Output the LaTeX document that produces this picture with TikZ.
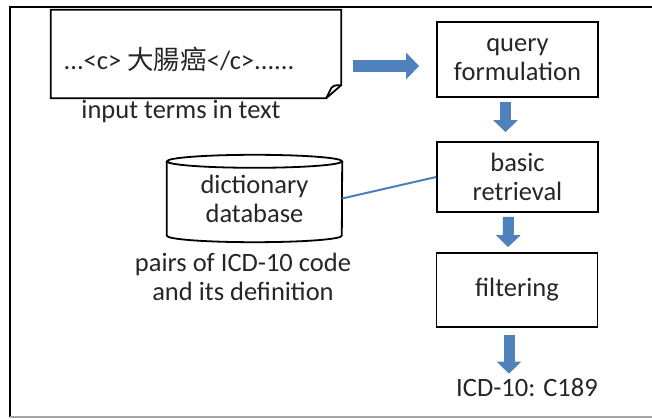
\documentclass[tikz,border=0pt]{standalone}
\usepackage{fontspec}
\setmainfont{Carlito}
\newfontfamily\cjk{Noto Sans CJK TC}
\usetikzlibrary{arrows.meta,positioning}

\definecolor{arrowblue}{RGB}{79,129,189}
\definecolor{linkblue}{RGB}{74,126,187}
\definecolor{textgray}{RGB}{38,38,38}

\begin{document}
\begin{tikzpicture}
[x=1pt,y=-1pt,
every node/.style={font=\fontsize{26.5}{29}\selectfont,text=textgray,align=center},
stepbox/.style={rectangle,draw=black,line width=1.8pt,minimum width=161pt,inner sep=0pt},
caption/.style={inner sep=0pt},
fatarrow/.style={draw=arrowblue,line width=12pt,-{Triangle[length=13pt,width=26pt]}},
downarrow/.style={draw=arrowblue,line width=11pt,-{Triangle[length=12pt,width=24pt]}}]
\useasboundingbox (0,0) rectangle (652,419);
% frame
\draw[line width=1.6pt] (10,417) -- (10,7) -- (660,7);
\draw[line width=1.6pt,gray!70] (10,417) -- (660,417);
% input text
\node (doc) at (196,54) [minimum width=290pt,minimum height=88pt,inner sep=0pt] {};
\node (doctext) at (179,59) [caption] {...<c> {\cjk 大腸癌}</c>......};
\draw[line width=1.8pt] (doc.north west) -- (doc.north east) -- ([yshift=13pt]doc.south east)
  -- ([xshift=-15pt]doc.south east) -- (doc.south west) -- cycle;
\draw[line width=1.8pt,line join=round] ([yshift=13pt]doc.south east) .. controls ([xshift=-7pt,yshift=13pt]doc.south east) .. ([xshift=-10pt,yshift=10pt]doc.south east) -- ([xshift=-15pt]doc.south east);
\node (doccap) at (181,112) [caption] {input terms in text};
% dictionary
\node (db) at (254.5,198.5) [minimum width=175pt,minimum height=87pt,inner sep=0pt] {dictionary\\database};
\draw[line width=1.8pt] ([yshift=-6.5pt]db.north west) -- ([yshift=6.5pt]db.south west)
  arc[start angle=180,end angle=360,x radius=87.5pt,y radius=6.5pt] -- ([yshift=-6.5pt]db.north east);
\draw[line width=1.8pt] ([yshift=-6.5pt]db.north) ellipse [x radius=87.5pt,y radius=6.5pt];
\node (dbcap) at (243,277) [caption] {pairs of ICD-10 code\\and its definition};
% steps
\node (query) at (517.5,59.5) [stepbox,minimum height=75pt] {query\\formulation};
\node (retr) at (517.5,177) [stepbox,minimum height=70pt] {basic\\retrieval};
\node (filt) at (517,290) [stepbox,minimum height=74pt] {filtering};
\node (result) at (527,388) [caption] {ICD-10: C189};
% connectors
\draw[fatarrow,shorten <=12pt,shorten >=17pt] ([yshift=-12pt]doc.east) -- ([yshift=-12pt]doc.east -| query.west);
\draw[downarrow,shorten <=4pt,shorten >=9pt] ([xshift=-12pt]query.south) -- ([xshift=-12pt]retr.north);
\draw[downarrow,shorten <=4pt,shorten >=5pt] ([xshift=-9pt]retr.south) -- ([xshift=-9pt]filt.south |- filt.north);
\draw[downarrow,shorten <=7pt,shorten >=5pt] ([xshift=-8pt]filt.south) -- ([xshift=-8pt]filt.south |- result.north);
\draw[linkblue,line width=2pt] (db.east) -- (retr.west);
\end{tikzpicture}
\end{document}
